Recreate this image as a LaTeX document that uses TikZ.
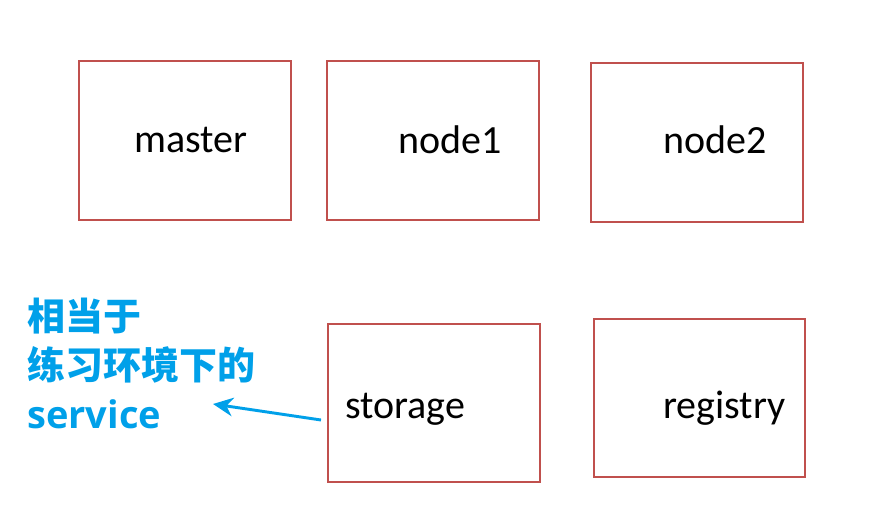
\documentclass[tikz,border=0pt]{standalone}
\usepackage{fontspec}
\setmainfont{Carlito}
\newfontfamily\cjk{Noto Sans CJK SC}
\newfontfamily\notelatin{Open Sans}
\usetikzlibrary{arrows.meta,fit}
\definecolor{boxred}{HTML}{C0504D}
\definecolor{noteblue}{HTML}{00A0E9}
\tikzset{
  box/.style={draw=boxred, line width=1.5pt, rectangle, inner sep=0pt},
  boxtext/.style={anchor=base west, inner sep=0pt, font=\fontsize{30}{36}\selectfont},
  note/.style={anchor=base west, inner sep=0pt, text=noteblue, font=\cjk\bfseries\fontsize{28.5}{34}\selectfont},
  pointer/.style={draw=noteblue, line width=2.2pt, -{Stealth[length=15pt,width=14pt]}},
}

\begin{document}
\begin{tikzpicture}[x=0.75pt,y=-0.75pt]
\useasboundingbox (0,0) rectangle (896,514);

% the five boxes, text set where the slide has it
\foreach \n/\xa/\ya/\xb/\yb/\tx/\ty in {master/79/61/291/220/134/152, node1/327/61/539/220/398/153,
  node2/591/63/803/222/663/153, storage/328/324/540/482/345/418, registry/594/319/805/477/663/418} {
\node[box, fit={(\xa,\ya) (\xb,\yb)}] (\n) {};
\node[boxtext] (\n-text) at (\tx,\ty) {\n};
}

% note on the left
\node[note] (note1) at (27,330) {相当于};
\node[note] (note2) at (27,379) {练习环境下的};
\node[note, font=\notelatin\bfseries\fontsize{28.5}{34}\selectfont] (note3) at (27,428) {service};

\coordinate (tail) at ([xshift=-4.5pt,yshift=-12.75pt]storage.west);
\coordinate (tip) at (213,404);
\draw[pointer] (tail) -- (tip);
\end{tikzpicture}
\end{document}
